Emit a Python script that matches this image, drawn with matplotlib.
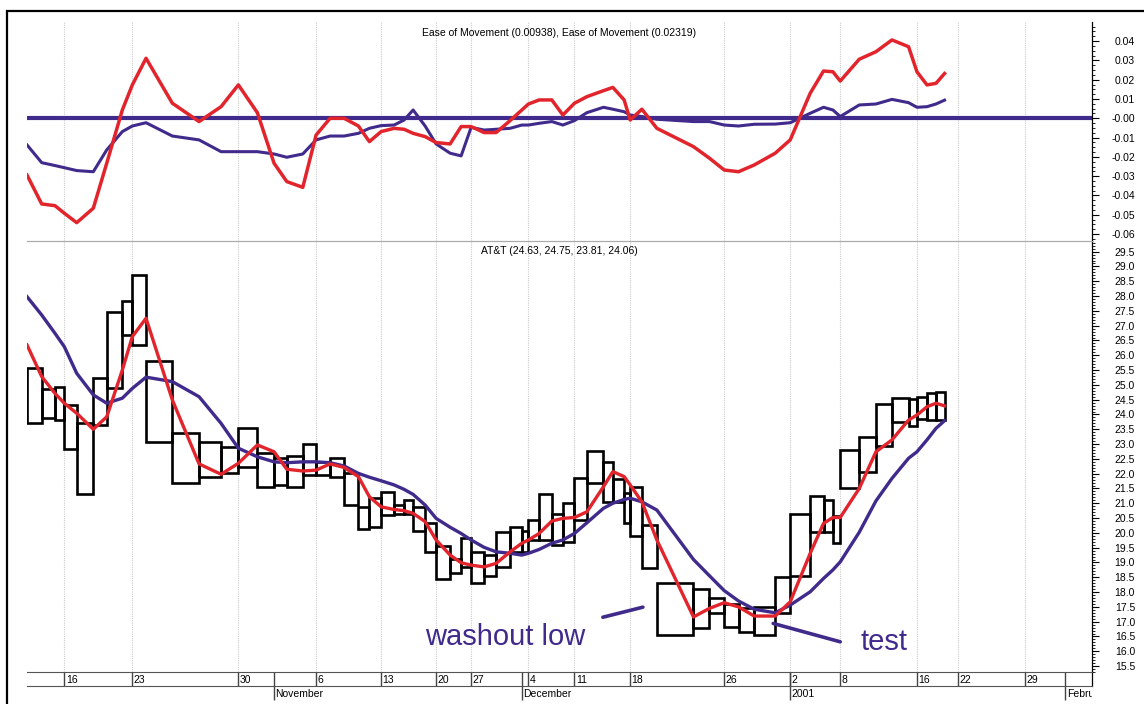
import matplotlib
matplotlib.use("Agg")
import matplotlib.pyplot as plt
import numpy as np
from matplotlib.patches import Rectangle
from matplotlib.ticker import MultipleLocator

plt.rcParams["font.family"] = ["Liberation Sans", "DejaVu Sans"]

# ---- data (one entry per trading day, Oct 12 2000 .. Jan 18 2001) ----
# box width = volume (arbitrary units), box top/bottom = day high/low
volume = [14.7, 13.3, 9.3, 12.4, 16.6, 13.4, 15.6, 10.0, 13.7, 26.3,
          26.7, 22.0, 17.3, 19.0, 16.7, 12.7, 16.0, 13.3, 14.0, 14.0,
          14.3, 11.0, 11.7, 13.0, 10.0, 9.0, 12.0, 11.0, 14.0, 11.0,
          10.0, 13.0, 12.0, 14.0, 11.7, 6.6, 10.7, 12.7, 11.0, 11.6,
          12.4, 16.6, 9.4, 11.3, 6.0, 11.7, 15.0, 36.6, 16.0, 14.7,
          14.3, 15.7, 21.0, 15.0, 20.0, 13.3, 9.4, 7.3, 19.0, 16.7,
          16.0, 16.6, 8.4, 10.0, 9.0, 8.6]
high = [25.58, 24.85, 24.93, 24.32, 23.72, 25.22, 27.45, 27.83, 28.71, 25.82,
        23.38, 23.06, 22.91, 23.55, 22.69, 22.52, 22.61, 23.00, 22.40, 22.52,
        22.02, 20.88, 21.17, 21.37, 20.94, 21.11, 20.88, 20.35, 19.54, 19.12,
        19.82, 19.35, 19.24, 20.02, 20.19, 20.05, 20.43, 21.31, 20.63, 21.00,
        21.86, 22.77, 22.40, 21.81, 21.36, 21.56, 20.26, 18.30, 18.10, 17.79,
        17.59, 17.46, 17.48, 18.51, 20.63, 21.25, 21.11, 20.57, 22.80, 23.25,
        24.35, 24.54, 24.52, 24.60, 24.71, 24.75]
low = [23.70, 23.89, 23.81, 22.83, 21.31, 23.64, 24.88, 26.68, 26.33, 23.08,
       21.67, 21.88, 22.01, 22.23, 21.54, 21.62, 21.56, 21.95, 21.95, 21.88,
       20.94, 20.12, 20.19, 20.62, 20.63, 20.63, 20.05, 19.37, 18.45, 18.63,
       18.84, 18.30, 18.55, 18.85, 19.35, 19.35, 19.76, 19.76, 19.59, 19.70,
       20.43, 21.67, 21.05, 21.05, 20.34, 19.89, 18.82, 16.56, 16.80, 17.29,
       16.83, 16.66, 16.55, 17.28, 18.54, 20.04, 20.04, 19.67, 21.50, 22.07,
       22.94, 23.75, 23.62, 23.84, 23.81, 23.81]

# moving averages, first value = close of the day before the first box
ma_fast = [26.35, 25.28, 24.71, 24.38, 24.04, 23.50, 23.92, 25.50, 26.63, 27.25,
           24.49, 22.33, 21.98, 22.35, 22.97, 22.74, 22.15, 22.09, 22.12, 22.33,
           22.21, 21.90, 21.22, 20.88, 20.79, 20.75, 20.66, 20.38, 19.76, 19.25,
           18.99, 18.91, 18.85, 18.97, 19.36, 19.65, 19.76, 19.98, 20.40, 20.49,
           20.52, 20.71, 21.56, 22.07, 21.90, 21.62, 21.05, 19.76, 17.16, 17.45,
           17.64, 17.50, 17.19, 17.19, 17.67, 19.31, 20.32, 20.52, 20.52, 21.50,
           22.74, 23.14, 23.81, 23.98, 24.26, 24.38, 24.29]
ma_slow = [27.98, 27.36, 26.74, 26.29, 25.39, 24.66, 24.38, 24.55, 24.88, 25.26,
           25.11, 24.60, 23.70, 22.86, 22.57, 22.40, 22.37, 22.40, 22.40, 22.37,
           22.26, 22.01, 21.88, 21.76, 21.62, 21.47, 21.30, 20.94, 20.49, 20.19,
           19.98, 19.76, 19.51, 19.36, 19.31, 19.25, 19.31, 19.44, 19.65, 19.76,
           19.98, 20.34, 20.83, 21.00, 21.13, 21.17, 21.05, 20.77, 19.10, 18.55,
           18.05, 17.70, 17.42, 17.30, 17.56, 18.01, 18.46, 18.75, 19.02, 20.02,
           21.08, 21.84, 22.52, 22.74, 23.14, 23.53, 23.79]

eom_fast = [-0.0294, -0.0444, -0.0453, -0.0492, -0.0541, -0.0466, -0.0233, 0.0043, 0.0173, 0.0311,
            0.0078, -0.0017, 0.0060, 0.0173, 0.0029, -0.0233, -0.0328, -0.0358, -0.0087, 0.0000,
            0.0000, -0.0040, -0.0121, -0.0069, -0.0052, -0.0057, -0.0078, -0.0095, -0.0126, -0.0133,
            -0.0043, -0.0043, -0.0074, -0.0074, -0.0012, 0.0043, 0.0074, 0.0095, 0.0095, 0.0017,
            0.0078, 0.0112, 0.0143, 0.0160, 0.0095, -0.0009, 0.0047, -0.0052, -0.0147, -0.0207,
            -0.0268, -0.0277, -0.0242, -0.0181, -0.0112, 0.0130, 0.0245, 0.0241, 0.0193, 0.0306,
            0.0345, 0.0406, 0.0371, 0.0241, 0.0173, 0.0181, 0.0232]
eom_slow = [-0.0138, -0.0230, -0.0245, -0.0256, -0.0271, -0.0277, -0.0164, -0.0069, -0.0040, -0.0023,
            -0.0092, -0.0112, -0.0173, -0.0173, -0.0173, -0.0185, -0.0202, -0.0185, -0.0112, -0.0092,
            -0.0092, -0.0078, -0.0052, -0.0038, -0.0035, -0.0009, 0.0043, -0.0040, -0.0133, -0.0181,
            -0.0195, -0.0047, -0.0061, -0.0057, -0.0052, -0.0035, -0.0035, -0.0026, -0.0017, -0.0035,
            -0.0012, 0.0029, 0.0057, 0.0047, 0.0034, 0.0017, 0.0009, -0.0005, -0.0017, -0.0017,
            -0.0035, -0.0040, -0.0031, -0.0030, -0.0023, 0.0026, 0.0057, 0.0043, 0.0009, 0.0069,
            0.0074, 0.0098, 0.0081, 0.0057, 0.0060, 0.0074, 0.0094]

# date axis: index of the box that starts each labelled day / month
day_tick_idx = [3, 8, 13, 18, 23, 28, 31, 36, 40, 45, 50, 54, 58, 63]
day_tick_labels = ["16", "23", "30", "6", "13", "20", "27", "4", "11", "18", "26", "2", "8", "16"]
month_idx = [15, 35, 54]
month_labels = ["November", "December", "2001"]
# empty future days on the right (in trading days after the last box)
future_day_offsets = [1, 6]
future_day_labels = ["22", "29"]
future_month_offset = 9
future_month_label = "February"
future_days_shown = 11

eom_ticks = [0.04, 0.03, 0.02, 0.01, 0.0, -0.01, -0.02, -0.03, -0.04, -0.05, -0.06]
eom_tick_labels = ["0.04", "0.03", "0.02", "0.01", "-0.00", "-0.01", "-0.02", "-0.03", "-0.04", "-0.05", "-0.06"]

RED = "#e2252d"
PURPLE = "#402a8c"
W, H = 1144, 704

right_edge = np.cumsum(volume)
left_edge = right_edge - np.array(volume)
line_x = np.concatenate([[0.0], right_edge])
day_unit = 13.4  # average box width, used to space the empty future days
x_max = right_edge[-1] + future_days_shown * day_unit

day_pos = [left_edge[i] for i in day_tick_idx] + [right_edge[-1] + d * day_unit for d in future_day_offsets]
day_lab = day_tick_labels + future_day_labels
mon_pos = [left_edge[i] for i in month_idx] + [right_edge[-1] + future_month_offset * day_unit]
mon_lab = month_labels + [future_month_label]

fig = plt.figure(figsize=(W / 100, H / 100), dpi=100)


def px_box(x0, y0, x1, y1):
    return [x0 / W, 1 - y1 / H, (x1 - x0) / W, (y1 - y0) / H]


ax_eom = fig.add_axes(px_box(27, 22, 1092, 241))
ax_px = fig.add_axes(px_box(27, 241, 1092, 672))
ax_day = fig.add_axes(px_box(27, 672, 1092, 686))
ax_mon = fig.add_axes(px_box(27, 686, 1092, 704))

for ax in (ax_eom, ax_px, ax_day, ax_mon):
    ax.set_xlim(0, x_max)
    ax.spines["left"].set_visible(False)
    ax.set_facecolor("none")

# shared styling of the two chart panels
for ax in (ax_eom, ax_px):
    ax.set_xticks(day_pos)
    ax.tick_params(axis="x", length=0, labelbottom=False)
    ax.grid(axis="x", color="#cccccc", linestyle=(0, (1, 1)), linewidth=0.8)
    ax.yaxis.tick_right()
    ax.tick_params(axis="y", which="major", length=5, width=0.8, pad=26, labelsize=7.5)
    ax.tick_params(axis="y", which="minor", length=2.5, width=0.6)
    ax.spines["right"].set_linewidth(0.9)

# ---- Ease of Movement panel ----
ax_eom.set_ylim(-0.0636, 0.0499)
ax_eom.spines["top"].set_visible(False)
ax_eom.spines["bottom"].set_color("#aaaaaa")
ax_eom.set_yticks(eom_ticks, labels=eom_tick_labels, ha="right")
ax_eom.yaxis.set_minor_locator(MultipleLocator(0.0025))
ax_eom.axhline(0, color=PURPLE, linewidth=3.0, zorder=2)
ax_eom.plot(line_x, eom_slow, color=PURPLE, linewidth=2.2, zorder=3)
ax_eom.plot(line_x, eom_fast, color=RED, linewidth=2.5, zorder=4)
ax_eom.text(0.5, 0.95, "Ease of Movement (0.00938), Ease of Movement (0.02319)",
            transform=ax_eom.transAxes, ha="center", va="center", fontsize=7.5)

# ---- Equivolume price panel ----
ax_px.set_ylim(15.30, 29.86)
ax_px.spines["top"].set_color("#aaaaaa")
ax_px.spines["bottom"].set_visible(False)
price_ticks = np.arange(15.5, 29.51, 0.5)
ax_px.set_yticks(price_ticks, labels=[f"{v:.1f}" for v in price_ticks], ha="right")
ax_px.yaxis.set_minor_locator(MultipleLocator(0.1))
ax_px.bar(left_edge, np.array(high) - np.array(low), width=volume, bottom=low, align="edge",
          fill=False, edgecolor="black", linewidth=1.9, zorder=2)
ax_px.plot(line_x, ma_slow, color=PURPLE, linewidth=2.4, zorder=3)
ax_px.plot(line_x, ma_fast, color=RED, linewidth=2.4, zorder=4)
ax_px.text(0.5, 0.977, "AT&T (24.63, 24.75, 23.81, 24.06)",
           transform=ax_px.transAxes, ha="center", va="center", fontsize=7.5)

# annotations
wash = left_edge[47]
ax_px.annotate("", xy=(wash - 14, 17.49), xytext=(wash - 54, 17.15),
               arrowprops=dict(arrowstyle="-", color=PURPLE, linewidth=2.6, shrinkA=0, shrinkB=0))
ax_px.text(wash - 232, 16.21, "washout low", color=PURPLE, fontsize=21, ha="left", va="baseline")
tst = right_edge[52]
ax_px.annotate("", xy=(tst - 2, 16.94), xytext=(tst + 65, 16.32),
               arrowprops=dict(arrowstyle="-", color=PURPLE, linewidth=2.6, shrinkA=0, shrinkB=0))
ax_px.text(tst + 85, 16.04, "test", color=PURPLE, fontsize=21, ha="left", va="baseline")

# ---- date strip ----
ax_day.set_ylim(0, 1)
ax_day.set_xticks([])
ax_day.set_yticks([])
for side in ("top", "bottom"):
    ax_day.spines[side].set_color("#555555")
ax_day.spines["right"].set_linewidth(0.9)
ax_day.vlines(day_pos + mon_pos, 0, 1, color="#444444", linewidth=1.0)
for x, lab in zip(day_pos, day_lab):
    ax_day.text(x + 1.5, 0.45, lab, ha="left", va="center", fontsize=7.5)

ax_mon.set_ylim(0, 1)
ax_mon.set_xticks([])
ax_mon.set_yticks([])
for side in ("top", "bottom", "right"):
    ax_mon.spines[side].set_visible(False)
ax_mon.vlines(mon_pos, 0.2, 1, color="#444444", linewidth=1.0)
for x, lab in zip(mon_pos, mon_lab):
    # month names run off the right edge of the date axis, as in the original
    ax_mon.text(x + 1.5, 0.55, lab, ha="left", va="center", fontsize=7.5,
                clip_on=True, clip_box=ax_mon.bbox)

# outer frame
fig.add_artist(Rectangle((7 / W, -0.05), (W + 10 - 7) / W, (H - 11) / H + 0.05,
                         transform=fig.transFigure, fill=False, edgecolor="black",
                         linewidth=1.6, clip_on=False))

fig.savefig("out.png", dpi=100)
